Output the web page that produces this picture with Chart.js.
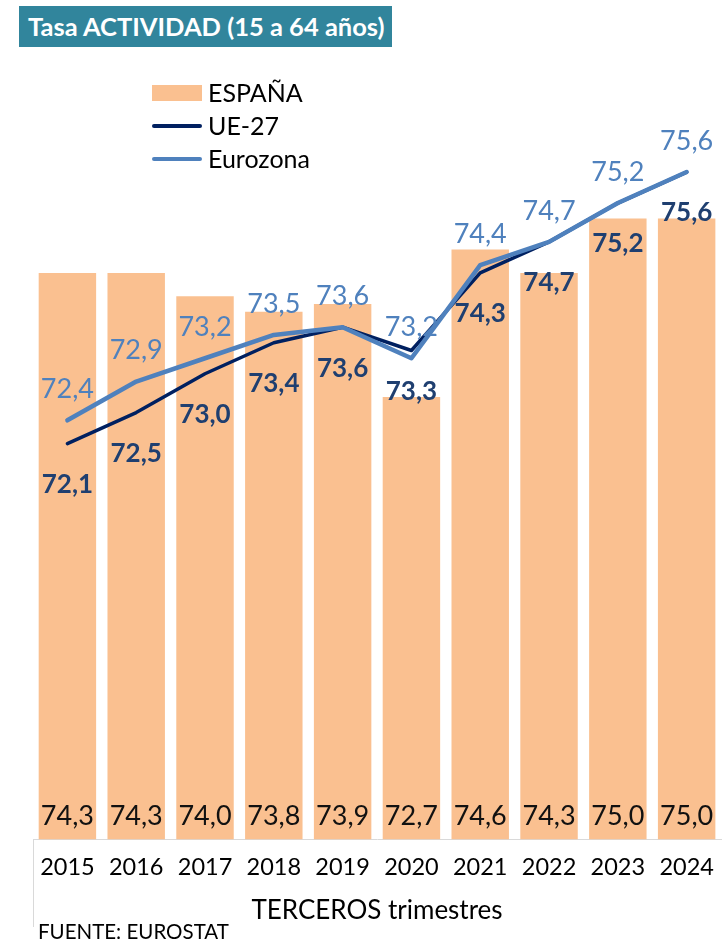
<!DOCTYPE html>
<html>
<head>
<meta charset="utf-8">
<script src="https://cdn.jsdelivr.net/npm/chart.js@4"></script>
<style>
html,body{margin:0;padding:0;overflow:hidden;background:#fff;width:723px;height:940px;}
#wrap{position:relative;width:723px;height:940px;overflow:hidden;}
canvas{position:absolute;left:0;top:0;}
#title{position:absolute;left:19px;top:6px;width:373px;height:41px;background:#31859C;color:#fff;
 font-family:Lato,"Open Sans",sans-serif;font-weight:bold;font-size:25.5px;line-height:41px;box-sizing:border-box;padding-left:9px;white-space:nowrap;}
#legend{position:absolute;left:152px;top:76px;font-family:Lato,"Open Sans",sans-serif;font-size:25px;color:#000;}
.lg{position:relative;height:33px;line-height:33px;padding-left:56px;white-space:nowrap;}
.sw{position:absolute;left:0;}
#foot{position:absolute;left:38px;top:920px;font-family:Lato,"Open Sans",sans-serif;font-size:20.5px;color:#000;line-height:22px;white-space:nowrap;}
</style>
</head>
<body>
<div id="wrap">
<canvas id="c" width="730" height="940"></canvas>
<div id="title">Tasa ACTIVIDAD (15 a 64 años)</div>
<div id="legend">
 <div class="lg"><span class="sw" style="top:9px;width:50px;height:16px;background:#FAC090"></span>ESPAÑA</div>
 <div class="lg"><span class="sw" style="top:15px;width:50px;height:4px;border-radius:2px;background:#002060"></span>UE-27</div>
 <div class="lg"><span class="sw" style="top:15px;width:50px;height:4px;border-radius:2px;background:#4F81BD"></span>Eurozona</div>
</div>
<div id="foot">FUENTE: EUROSTAT</div>
</div>
<script>
const categories = ["2015","2016","2017","2018","2019","2020","2021","2022","2023","2024"];
const espana = [74.3, 74.3, 74.0, 73.8, 73.9, 72.7, 74.6, 74.3, 75.0, 75.0];
const ue27 = [72.1, 72.5, 73.0, 73.4, 73.6, 73.3, 74.3, 74.7, 75.2, 75.6];
const eurozona = [72.4, 72.9, 73.2, 73.5, 73.6, 73.2, 74.4, 74.7, 75.2, 75.6];
const axisTitle = "TERCEROS trimestres";
const yMin = 67, yMax = 76;

const FONT = 'Lato, "Open Sans", sans-serif';
const fmt = v => v.toFixed(1).replace('.', ',');

const labelsPlugin = {
  id: 'valueLabels',
  afterDatasetsDraw(chart) {
    const ctx = chart.ctx;
    const area = chart.chartArea;
    ctx.save();
    ctx.textAlign = 'center';
    ctx.textBaseline = 'middle';
    chart.data.datasets.forEach((ds, di) => {
      const meta = chart.getDatasetMeta(di);
      meta.data.forEach((el, i) => {
        const v = ds.data[i];
        if (ds.type === 'bar') {
          ctx.font = '27px ' + FONT;
          ctx.fillStyle = '#111111';
          ctx.fillText(fmt(v), el.x, area.bottom - 23);
        } else if (ds.label === 'UE-27') {
          ctx.font = 'bold 26px ' + FONT;
          ctx.fillStyle = '#1F3F70';
          ctx.fillText(fmt(v), el.x, el.y + 41);
        } else {
          ctx.font = '27px ' + FONT;
          ctx.fillStyle = '#4F81BD';
          ctx.fillText(fmt(v), el.x, el.y - 31);
        }
      });
    });
    ctx.restore();
  },
  afterDraw(chart) {
    const ctx = chart.ctx;
    const area = chart.chartArea;
    ctx.save();
    ctx.strokeStyle = '#D9D9D9';
    ctx.lineWidth = 1;
    ctx.beginPath();
    ctx.moveTo(Math.round(area.left) + 0.5, area.bottom);
    ctx.lineTo(Math.round(area.left) + 0.5, 927);
    ctx.stroke();
    ctx.restore();
  }
};

new Chart(document.getElementById('c'), {
  data: {
    labels: categories,
    datasets: [
      { type: 'bar', label: 'ESPAÑA', data: espana, backgroundColor: '#FAC090',
        barPercentage: 1.0, categoryPercentage: 0.835, order: 3 },
      { type: 'line', label: 'UE-27', data: ue27, borderColor: '#002060', borderWidth: 3.5,
        pointRadius: 0, tension: 0, borderCapStyle: 'round', borderJoinStyle: 'round', order: 2 },
      { type: 'line', label: 'Eurozona', data: eurozona, borderColor: '#4F81BD', borderWidth: 4.5,
        pointRadius: 0, tension: 0, borderCapStyle: 'round', borderJoinStyle: 'round', order: 1 }
    ]
  },
  options: {
    responsive: false,
    animation: false,
    layout: { padding: { left: 33, right: 2, top: 141, bottom: 14 } },
    plugins: { legend: { display: false }, tooltip: { enabled: false }, title: { display: false } },
    scales: {
      x: {
        grid: { display: true, drawOnChartArea: false, drawTicks: false },
        border: { display: true, color: '#D9D9D9', width: 1 },
        ticks: { color: '#000', font: { family: FONT, size: 23.5, lineHeight: 1.0 }, padding: 16, maxRotation: 0 },
        title: { display: true, text: axisTitle, color: '#000', font: { family: FONT, size: 26 }, padding: { top: 0, bottom: 0 } }
      },
      y: { display: false, min: yMin, max: yMax }
    }
  },
  plugins: [labelsPlugin]
});
</script>
</body>
</html>
